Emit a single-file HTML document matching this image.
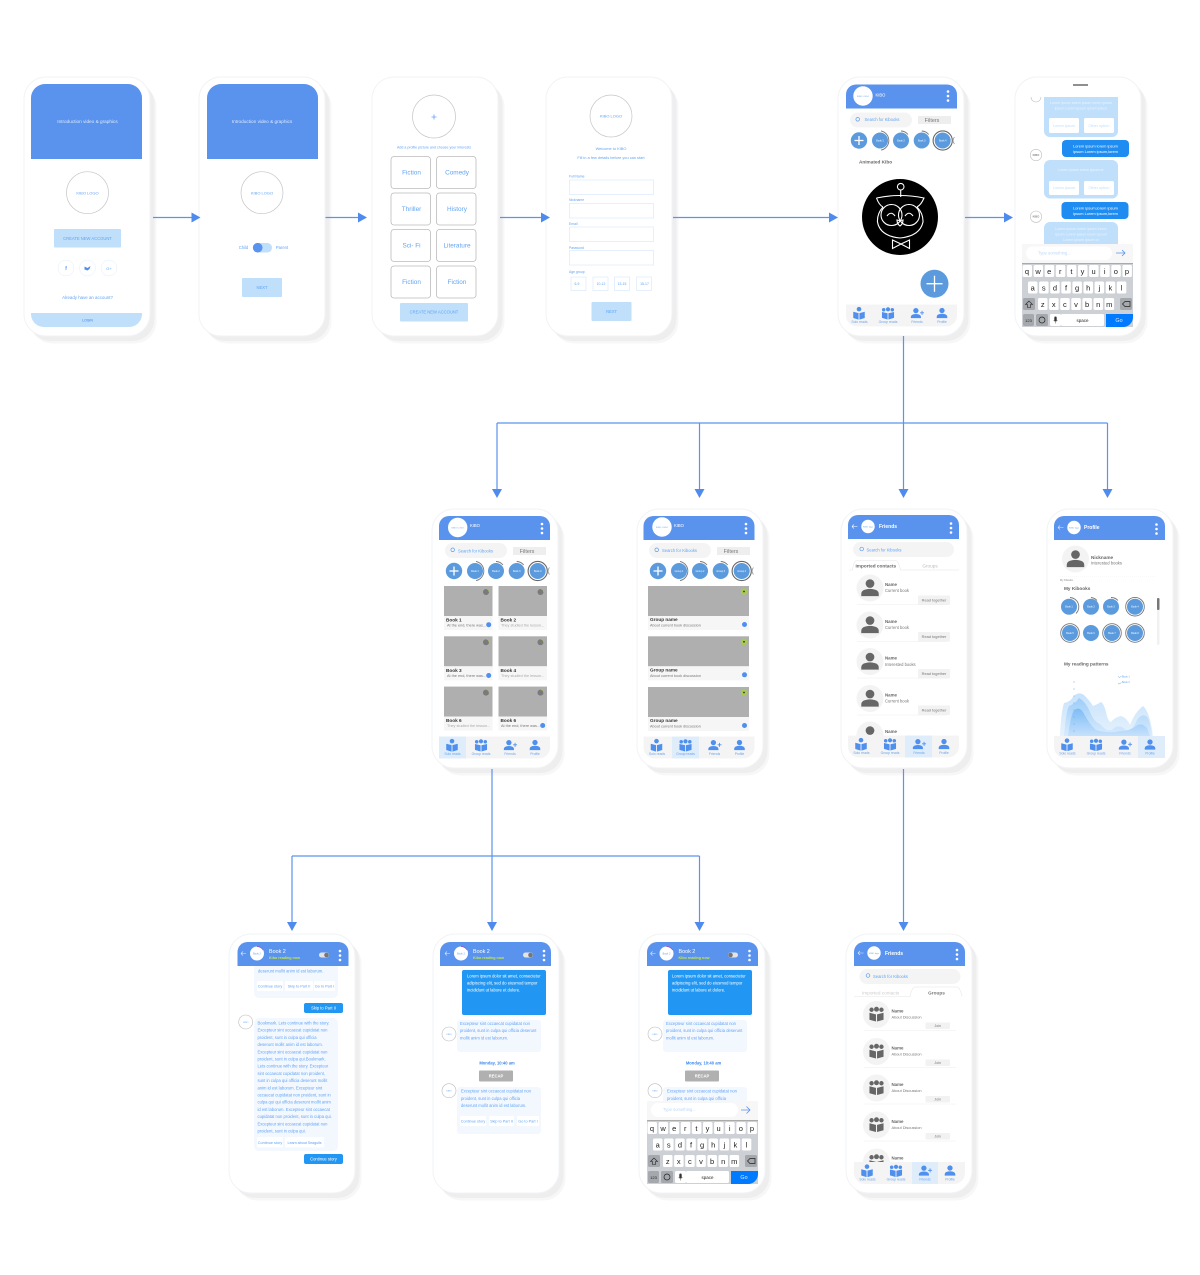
<!DOCTYPE html>
<html><head><meta charset="utf-8"><title>Kibo flow</title>
<style>
html,body{margin:0;padding:0;background:#fff}
svg{display:block;filter:blur(.35px)}
text{font-family:"Liberation Sans",sans-serif}
.b{fill:#62a4f4}.w{fill:#fff}.g{fill:#777}.d{fill:#333}
.bo{font-weight:700}
.m{text-anchor:middle}
.t3{font-size:3.8px}.t35{font-size:4.15px}.t4{font-size:4.7px}.t45{font-size:5px}.t5{font-size:5.4px}.t6{font-size:6.4px}
.k{font-size:7.5px;fill:#222;text-anchor:middle}
.line{stroke:#5b93ee;stroke-width:1.2;fill:none}
.ah{fill:#4f8bee}
</style></head><body>
<svg width="1200" height="1275" viewBox="0 0 1200 1275" xmlns="http://www.w3.org/2000/svg">
<defs>
<linearGradient id="c1" x1="0" y1="0" x2="0" y2="1"><stop offset="0" stop-color="#c7e2fb"/><stop offset="1" stop-color="#e6f2fd"/></linearGradient>
<linearGradient id="c2" x1="0" y1="0" x2="0" y2="1"><stop offset="0" stop-color="#9ccdf9"/><stop offset="1" stop-color="#d9ebfc"/></linearGradient>
<linearGradient id="c3" x1="0" y1="0" x2="0" y2="1"><stop offset="0" stop-color="#7dbcf7"/><stop offset="1" stop-color="#c6e1fb"/></linearGradient>
<g id="phone"><rect x="6.500" y="7.500" width="126" height="259" rx="22" fill="#f7f7f7"/><rect x="4.500" y="5" width="126" height="259" rx="22" fill="#eeeeee"/><rect x="0" y="0" width="126" height="259" rx="22" fill="#fff" stroke="#f1f3f6" stroke-width="1"/></g>
<path id="hdr" d="M0 24V10a10 10 0 0 1 10-10h91a10 10 0 0 1 10 10v14z" fill="#5a93ee"/>
<g id="dots" fill="#fff"><circle cx="0" cy="-4.500" r="1.300"/><circle cx="0" cy="0" r="1.300"/><circle cx="0" cy="4.500" r="1.300"/></g>
<g id="person"><circle cx="0" cy="-2.600" r="2.300"/><path d="M-4.600 4v-1.200q0-2.400 4.600-2.600q4.600.2 4.600 2.600v1.200z"/></g>
<g id="solo" fill="#4f8fee"><circle cx="0" cy="-3.800" r="2"/><path d="M-5-1.500l4.600 1.200v5.600l-4.600-1.400zM5-1.500l-4.600 1.200v5.600l4.600-1.400z"/></g>
<g id="group" fill="#4f8fee"><circle cx="0" cy="-3.800" r="1.900"/><circle cx="-3.900" cy="-3.400" r="1.600"/><circle cx="3.900" cy="-3.400" r="1.600"/><path d="M-5.500-1.400l5.100 1.200v5.600l-5.100-1.400zM5.500-1.400l-5.100 1.200v5.600l5.100-1.400z"/></g>
<g id="friend" fill="#4f8fee"><circle cx="-1" cy="-2.600" r="2.400"/><path d="M-5.600 4.200v-1.200q0-2.400 4.600-2.600q4.600.2 4.600 2.600v1.200z"/><path d="M2.800-.6h3.600M4.600-2.400v3.600" stroke="#4f8fee" stroke-width=".8"/></g>
<g id="navbg"><path d="M0 0h111v11a11 11 0 0 1-11 11H11A11 11 0 0 1 0 11z" fill="#f4f4f4"/></g>
<g id="navic">
<use href="#solo" transform="translate(13 9) scale(1.15)"/><use href="#group" transform="translate(42 9) scale(1.1)"/><use href="#friend" transform="translate(71 9) scale(1.1)"/><use href="#person" transform="translate(96 9) scale(1.15)" fill="#4f8fee"/>
<g style="font-size:3.4px" class="m" fill="#6aa3ee"><text x="13.500" y="18.500">Solo reads</text><text x="42" y="18.500">Group reads</text><text x="71" y="18.500">Friends</text><text x="96" y="18.500">Profile</text></g>
</g>
<g id="arcr"><path d="M1 -9.600A9.800 9.800 0 0 1 1 9.600" fill="none" stroke="#777" stroke-width=".9"/></g>
<g id="strip">
<circle r="8.200" fill="#5b9bdd"/><path d="M-4.500 0h9M0-4.500v9" stroke="#fff" stroke-width="1.300"/>
<circle cx="21" r="8" fill="#5b9bdd"/><use href="#arcr" x="21"/>
<circle cx="42" r="8" fill="#5b9bdd"/><path d="M42 -9.500A9.500 9.500 0 0 1 49 -6" fill="none" stroke="#777" stroke-width=".9"/>
<circle cx="62.700" r="8" fill="#5b9bdd"/><path d="M62.700 -9.500A9.500 9.500 0 0 1 69.700 -6" fill="none" stroke="#777" stroke-width=".9"/>
<circle cx="83.700" r="8" fill="#5b9bdd"/><circle cx="83.700" r="9.600" fill="none" stroke="#666" stroke-width="1.100"/>
<path d="M95.500 -3.500A5 5 0 0 0 95.500 3.500" fill="none" stroke="#999" stroke-width=".8"/>
</g>
<g id="srch"><rect width="62" height="15" rx="7.500" fill="#f4f4f4"/><circle cx="7.700" cy="6.800" r="1.800" fill="none" stroke="#5a9af0" stroke-width=".7"/></g>
<g id="filt"><rect width="33" height="8" fill="#eee"/><text x="14" y="5.800" class="t5 m g">Filters</text></g>
<g id="bcard"><rect width="48.500" height="30" fill="#afafaf"/><rect y="30" width="48.500" height="14" fill="#f6f6f6"/><circle cx="42" cy="6" r="3" fill="#7a7a7a"/><path d="M42.500 3A3 3 0 0 1 45 6" fill="none" stroke="#a8cc50" stroke-width=".6"/></g>
<g id="gcard"><rect width="101" height="30" fill="#afafaf"/><rect y="30" width="101" height="14" fill="#f6f6f6"/><circle cx="96" cy="5.500" r="3.200" fill="#a8cc50"/><circle cx="96" cy="5.500" r=".9" fill="#333"/><circle cx="96.500" cy="38.500" r="2.500" fill="#4f8fee"/></g>
<g id="bigp"><circle r="13.500" fill="#f3f3f3"/><use href="#person" transform="translate(0 .5) scale(1.9)" fill="#666"/></g>
<g id="groupg" fill="#666"><circle cx="0" cy="-6" r="2.800"/><circle cx="-5.600" cy="-5.400" r="2.500"/><circle cx="5.600" cy="-5.400" r="2.500"/><path d="M-8-2l7.400 1.800v8.200l-7.400-2zM8-2l-7.400 1.800v8.200l7.400-2z"/></g>
<g id="bigg"><circle r="13.500" fill="#f3f3f3"/><use href="#groupg" transform="scale(.88)"/></g>
<g id="av"><circle r="7" fill="#fff" stroke="#bbb" stroke-width=".6"/><text y="1" class="m b" style="font-size:2.200px">KIBO</text></g>
<g id="chc">
<path d="M4.500 0h5M4.500 0l2-2M4.500 0l2 2" stroke="#dfe9fb" stroke-width=".6" fill="none" transform="translate(-.5 0)"/>
<circle cx="20" r="7" fill="#fff"/><path d="M20 -7A7 7 0 0 1 26 -3.500" stroke="#b03fc0" stroke-width=".7" fill="none"/>
<text x="20" y="1" class="m b" style="font-size:2.500px">Book 2</text>
<text x="32" y="-.5" class="t5 w">Book 2</text>
<text x="32" y="5.500" class="bo" style="font-size:3.700px" fill="#c8e830">Kibo reading now</text>
<use href="#dots" x="103" y="2"/>
</g>
<g id="tog"><rect x="-5" y="-2.500" width="10" height="5" rx="2.500" fill="#e4e4e4"/><circle cx="2.500" r="2.300" fill="#777"/></g>
<g id="kb">
<rect width="111" height="64" fill="#cdd1d6"/><rect width="111" height="1" fill="#aaa"/>
<g fill="#fff">
<rect x=".5" y="2" width="9.500" height="12" rx="1.500"/><rect x="11.600" y="2" width="9.500" height="12" rx="1.500"/><rect x="22.700" y="2" width="9.500" height="12" rx="1.500"/><rect x="33.800" y="2" width="9.500" height="12" rx="1.500"/><rect x="44.900" y="2" width="9.500" height="12" rx="1.500"/><rect x="56" y="2" width="9.500" height="12" rx="1.500"/><rect x="67.100" y="2" width="9.500" height="12" rx="1.500"/><rect x="78.200" y="2" width="9.500" height="12" rx="1.500"/><rect x="89.300" y="2" width="9.500" height="12" rx="1.500"/><rect x="100.400" y="2" width="9.500" height="12" rx="1.500"/>
<rect x="6" y="18.500" width="9.500" height="12" rx="1.500"/><rect x="17.100" y="18.500" width="9.500" height="12" rx="1.500"/><rect x="28.200" y="18.500" width="9.500" height="12" rx="1.500"/><rect x="39.300" y="18.500" width="9.500" height="12" rx="1.500"/><rect x="50.400" y="18.500" width="9.500" height="12" rx="1.500"/><rect x="61.500" y="18.500" width="9.500" height="12" rx="1.500"/><rect x="72.600" y="18.500" width="9.500" height="12" rx="1.500"/><rect x="83.700" y="18.500" width="9.500" height="12" rx="1.500"/><rect x="94.800" y="18.500" width="9.500" height="12" rx="1.500"/>
<rect x="16" y="35" width="9.500" height="12" rx="1.500"/><rect x="27.100" y="35" width="9.500" height="12" rx="1.500"/><rect x="38.200" y="35" width="9.500" height="12" rx="1.500"/><rect x="49.300" y="35" width="9.500" height="12" rx="1.500"/><rect x="60.400" y="35" width="9.500" height="12" rx="1.500"/><rect x="71.500" y="35" width="9.500" height="12" rx="1.500"/><rect x="82.600" y="35" width="9.500" height="12" rx="1.500"/>
<rect x="28" y="51" width="11" height="12" rx="1.500"/><rect x="39" y="51" width="43" height="12" rx="1.500"/>
</g>
<rect x="1" y="35" width="12" height="12" rx="1.500" fill="#a5a8ad"/><rect x="98" y="35" width="12" height="12" rx="1.500" fill="#a5a8ad"/>
<rect x="1" y="51" width="11" height="12" rx="1.500" fill="#a5a8ad"/><rect x="14" y="51" width="12" height="12" rx="1.500" fill="#a5a8ad"/>
<path d="M84 51h27v3a10 10 0 0 1-10 10H84z" fill="#007aff"/>
<text x="5" y="11" class="k">q</text><text x="16.100" y="11" class="k">w</text><text x="27.200" y="11" class="k">e</text><text x="38.300" y="11" class="k">r</text><text x="49.400" y="11" class="k">t</text><text x="60.500" y="11" class="k">y</text><text x="71.600" y="11" class="k">u</text><text x="82.700" y="11" class="k">i</text><text x="93.800" y="11" class="k">o</text><text x="104.900" y="11" class="k">p</text>
<text x="10.700" y="27.500" class="k">a</text><text x="21.800" y="27.500" class="k">s</text><text x="32.900" y="27.500" class="k">d</text><text x="44" y="27.500" class="k">f</text><text x="55.100" y="27.500" class="k">g</text><text x="66.200" y="27.500" class="k">h</text><text x="77.300" y="27.500" class="k">j</text><text x="88.400" y="27.500" class="k">k</text><text x="99.500" y="27.500" class="k">l</text>
<text x="20.700" y="44" class="k">z</text><text x="31.800" y="44" class="k">x</text><text x="42.900" y="44" class="k">c</text><text x="54" y="44" class="k">v</text><text x="65.100" y="44" class="k">b</text><text x="76.200" y="44" class="k">n</text><text x="87.300" y="44" class="k">m</text>
<path d="M7 38l-3.500 3.500h2v3h3v-3h2z" fill="none" stroke="#222" stroke-width=".6"/>
<path d="M100.500 41l2.500-2.500h5v5h-5z" fill="none" stroke="#222" stroke-width=".7"/>
<text x="6.500" y="59" class="m" style="font-size:4px" fill="#222">123</text>
<circle cx="20" cy="57" r="3" fill="none" stroke="#222" stroke-width=".7"/>
<rect x="32.300" y="53.500" width="2.400" height="5" rx="1.200" fill="#333"/><path d="M31.500 57q2 3 4 0M33.500 59v1.500" fill="none" stroke="#333" stroke-width=".4"/>
<text x="60.500" y="59" class="m" style="font-size:4.500px" fill="#222">space</text>
<text x="97" y="59" class="t5 m" fill="#dde9ff">Go</text>
</g>
</defs>

<!-- phones -->
<use href="#phone" x="24" y="77"/><use href="#phone" x="199" y="77"/><use href="#phone" x="372" y="77"/><use href="#phone" x="546" y="77"/><use href="#phone" x="838" y="77"/><use href="#phone" x="1015" y="77"/>
<use href="#phone" x="432" y="509"/><use href="#phone" x="637" y="509"/><use href="#phone" x="841" y="509"/><use href="#phone" x="1047" y="509"/>
<use href="#phone" x="229" y="934"/><use href="#phone" x="433" y="934"/><use href="#phone" x="639" y="934"/><use href="#phone" x="846" y="934"/>

<!-- connectors -->
<g class="line">
<path d="M153 217.500H192"/><path d="M325.500 217.500H359"/><path d="M500 217.500H542"/><path d="M673 217.500H830"/><path d="M965 217.500H1005"/>
<path d="M903.500 336V490"/><path d="M497 423H1107.500"/><path d="M497 423V490"/><path d="M699.500 423V490"/><path d="M1107.500 423V490"/>
<path d="M492 769V923"/><path d="M292 856H699.500"/><path d="M292 856V923"/><path d="M699.500 856V923"/><path d="M903.500 769V923"/>
</g>
<g class="ah">
<path d="M191.500 212.500l9 5-9 5z"/><path d="M358 212.500l9 5-9 5z"/><path d="M541 212.500l9 5-9 5z"/><path d="M829 212.500l9 5-9 5z"/><path d="M1004 212.500l9 5-9 5z"/>
<path d="M492 489h10l-5 9z"/><path d="M694.500 489h10l-5 9z"/><path d="M898.500 489h10l-5 9z"/><path d="M1102.500 489h10l-5 9z"/>
<path d="M287 922h10l-5 9z"/><path d="M487 922h10l-5 9z"/><path d="M694.500 922h10l-5 9z"/><path d="M898.500 922h10l-5 9z"/>
</g>

<!-- P1 -->
<path d="M31 159V98a14 14 0 0 1 14-14h83a14 14 0 0 1 14 14v61z" fill="#5a93ee"/>
<text x="87.500" y="123" class="t4 m" fill="#dfe9fb">Introduction video &amp; graphics</text>
<circle cx="87.500" cy="192.700" r="21" fill="#fff" stroke="#c4c4c4" stroke-width=".7"/>
<text x="87.500" y="194.500" class="m b" style="font-size:4px">KIBO LOGO</text>
<rect x="54" y="229" width="67" height="18.500" rx="1" fill="#bfdffb"/>
<text x="87.500" y="240" class="t35 m b">CREATE NEW ACCOUNT</text>
<g fill="#fff" stroke="#e2eefc" stroke-width=".5"><circle cx="66" cy="268" r="8"/><circle cx="87.500" cy="268" r="8"/><circle cx="109" cy="268" r="8"/></g>
<text x="66" y="270" class="t5 m bo b">f</text><path d="M84.500 266.500l3 1.500 3-2-1 3-2 1.500-3-1z" fill="#4f8fee"/><text x="109" y="270" class="m b" style="font-size:4px">G+</text>
<text x="87.500" y="299" class="m b" style="font-size:4.400px">Already have an account?</text>
<path d="M31 313h111v1a13 13 0 0 1-13 13H44a13 13 0 0 1-13-13z" fill="#bfdffb"/>
<text x="87.500" y="321.300" class="m" style="font-size:3.400px" fill="#3c7fe0">LOGIN</text>

<!-- P2 -->
<path d="M207 159V98a14 14 0 0 1 14-14h83a14 14 0 0 1 14 14v61z" fill="#5a93ee"/>
<text x="262" y="123" class="t4 m" fill="#dfe9fb">Introduction video &amp; graphics</text>
<circle cx="262" cy="192.700" r="21" fill="#fff" stroke="#c4c4c4" stroke-width=".7"/>
<text x="262" y="194.500" class="m b" style="font-size:4px">KIBO LOGO</text>
<text x="243.500" y="249" class="t35 m b">Child</text>
<rect x="253" y="243" width="19" height="9.500" rx="4.700" fill="#bfdffb"/><circle cx="257.700" cy="247.700" r="4.800" fill="#5a93ee"/>
<text x="282" y="249" class="t35 m b">Parent</text>
<rect x="242" y="278" width="40" height="19" rx="1" fill="#bfdffb"/>
<text x="262" y="289" class="t35 m b">NEXT</text>

<!-- P3 -->
<circle cx="434" cy="116.500" r="21.500" fill="#fff" stroke="#c4c4c4" stroke-width=".7"/>
<path d="M431.500 117h5M434 114.500v5" stroke="#62a4f4" stroke-width=".8"/>
<text x="434" y="148.500" class="m b" style="font-size:3.600px">Add a profile picture and choose your interests</text>
<g fill="#fff" stroke="#bbb" stroke-width=".8">
<rect x="391" y="156.500" width="39.500" height="32" rx="3"/><rect x="436.500" y="156.500" width="39.500" height="32" rx="3"/>
<rect x="391" y="193" width="39.500" height="32" rx="3"/><rect x="436.500" y="193" width="39.500" height="32" rx="3"/>
<rect x="391" y="229.500" width="39.500" height="32" rx="3"/><rect x="436.500" y="229.500" width="39.500" height="32" rx="3"/>
<rect x="391" y="266" width="39.500" height="32" rx="3"/><rect x="436.500" y="266" width="39.500" height="32" rx="3"/>
</g>
<g class="t6 b" text-anchor="middle">
<text x="411.500" y="174.500">Fiction</text><text x="457" y="174.500">Comedy</text>
<text x="411.500" y="211">Thriller</text><text x="457" y="211">History</text>
<text x="411.500" y="247.500">Sci- Fi</text><text x="457" y="247.500">Literature</text>
<text x="411.500" y="284">Fiction</text><text x="457" y="284">Fiction</text>
</g>
<rect x="400" y="303" width="68" height="18.500" rx="1" fill="#bfdffb"/>
<text x="434" y="313.500" class="t35 m b">CREATE NEW ACCOUNT</text>

<!-- P4 -->
<circle cx="611" cy="116" r="21" fill="#fff" stroke="#c4c4c4" stroke-width=".7"/>
<text x="611" y="117.500" class="m b" style="font-size:4px">KIBO LOGO</text>
<text x="611" y="150" class="m b" style="font-size:3.900px">Welcome to KIBO</text>
<text x="611" y="159" class="m b" style="font-size:3.900px">Fill in a few details before you can start</text>
<g class="b" style="font-size:3.400px"><text x="569" y="177.500">Full Name</text><text x="569" y="201">Nickname</text><text x="569" y="225">Email</text><text x="569" y="249">Password</text><text x="569" y="273">Age group</text></g>
<g fill="#fff" stroke="#d5e7fb" stroke-width=".6">
<rect x="569.500" y="180" width="84" height="14.500"/><rect x="569.500" y="203.500" width="84" height="14.500"/><rect x="569.500" y="227" width="84" height="14.500"/><rect x="569.500" y="250.500" width="84" height="14.500"/>
<rect x="571" y="277" width="15" height="13.500"/><rect x="593" y="277" width="15" height="13.500"/><rect x="614.500" y="277" width="15" height="13.500"/><rect x="636.500" y="277" width="15" height="13.500"/>
</g>
<g class="m b" style="font-size:3.400px"><text x="577" y="285">6-9</text><text x="601" y="285">10-12</text><text x="622" y="285">13-15</text><text x="644.500" y="285">15-17</text></g>
<rect x="591.500" y="302" width="40" height="19" rx="1" fill="#bfdffb"/>
<text x="611.500" y="313" class="t35 m b">NEXT</text>

<!-- P5 -->
<use href="#hdr" x="846" y="84.500"/><circle cx="863" cy="96" r="9.700" fill="#fff"/>
<text x="863" y="97" class="m b" style="font-size:2.200px">KIBO LOGO</text><text x="875.500" y="96.500" class="t35 w">KIBO</text>
<use href="#dots" x="948" y="96"/>
<use href="#srch" x="850" y="112.500"/><text x="882" y="121" class="t35 m b">Search for Kibooks</text>
<use href="#filt" x="918" y="116"/>
<use href="#strip" x="859" y="140.500"/>
<g class="m w" style="font-size:2.400px"><text x="880" y="141.500">Book 1</text><text x="901" y="141.500">Book 2</text><text x="921.700" y="141.500">Book 3</text><text x="942.700" y="141.500">Book 4</text></g>
<text x="859" y="163.500" class="t4 bo" fill="#666">Animated Kibo</text>
<circle cx="900" cy="217" r="38" fill="#000"/>
<g fill="none" stroke="#fff" stroke-width="1.100">
<circle cx="900.700" cy="186.700" r="3.300"/><path d="M900.700 190V197"/>
<path d="M876.500 198Q900 193 924 198Q921 205 917 207"/><path d="M876.500 198Q879 205 883 207"/>
<path d="M883 207A25 22 0 0 0 877.500 222Q880 236 900 238Q920 236 923 222A25 22 0 0 0 917 207"/>
<circle cx="891.500" cy="215" r="10.500"/><circle cx="909" cy="215" r="10.500"/>
<path d="M887 216q4-5.500 8 0M905 216q4-5.500 8 0"/>
<path d="M897 220q3 1 6 0q0 4-3 6q-3-2-3-6z"/>
<path d="M901 244l-8.500-4v8.500zM901 244l8.500-4v8.500z"/>
</g>
<circle cx="934.500" cy="283.700" r="14" fill="#5b9bdd"/><path d="M926.500 283.700h16M934.500 275.700v16" stroke="#fff" stroke-width="1.300"/>
<use href="#navbg" x="846" y="304.500"/><use href="#navic" x="846" y="304.500"/>

<!-- P6 -->
<path d="M1073 85h15" stroke="#444" stroke-width="1.200"/>
<g fill="#bfdffb"><path d="M1044 97h74v34a6 6 0 0 1-6 6h-62a6 6 0 0 1-6-6z"/><rect x="1044" y="160" width="74" height="38.500" rx="6"/><path d="M1044 228a6 6 0 0 1 6-6h62a6 6 0 0 1 6 6v16h-74z"/></g>
<g class="m" fill="#eaf4ff" style="font-size:3.600px"><text x="1081" y="104">Lorem ipsum lorem ipsum lorem ipsum</text><text x="1081" y="109.500">ipsum Lorem ipsum ipsum ipsum</text><text x="1081" y="171">Lorem ipsum lorem ipsum or</text><text x="1081" y="230">Lorem ipsum lorem ipsum lorem</text><text x="1081" y="235.500">ipsum Lorem ipsum lorem ipsum</text><text x="1081" y="241">Lorem ipsum ipsum or</text></g>
<g fill="#fff"><rect x="1049" y="118" width="30" height="15" rx="1.500"/><rect x="1084" y="118" width="30" height="15" rx="1.500"/><rect x="1049" y="181" width="30" height="14" rx="1.500"/><rect x="1084" y="181" width="30" height="14" rx="1.500"/></g>
<g class="m" fill="#bfdffb" style="font-size:3.800px"><text x="1064" y="127">Lorem ipsum</text><text x="1099" y="127">Other option</text><text x="1064" y="189">Lorem ipsum</text><text x="1099" y="189">Other option</text></g>
<rect x="1062" y="140" width="67" height="17" rx="4" fill="#1f8cf2"/><rect x="1061.500" y="202" width="67" height="17" rx="4" fill="#1f8cf2"/>
<g class="m w" style="font-size:3.900px"><text x="1095.500" y="147.500">Lorem ipsum lorem ipsum</text><text x="1095.500" y="153">ipsum Lorem ipsum,lorem</text><text x="1095.500" y="209.500">Lorem ipsum,lorem ipsum</text><text x="1095.500" y="215">ipsum Lorem ipsum,lorem</text></g>
<circle cx="1036" cy="155" r="5.700" fill="#fff" stroke="#bbb" stroke-width=".6"/><circle cx="1036" cy="216.700" r="5.700" fill="#fff" stroke="#bbb" stroke-width=".6"/><path d="M1031 97a5 5 0 0 0 10 0" fill="none" stroke="#bbb" stroke-width=".6"/>
<text x="1036" y="156" class="m" style="font-size:2.800px" fill="#555">KIBO</text><text x="1036" y="217.700" class="m" style="font-size:2.800px" fill="#555">KIBO</text>
<rect x="1022" y="244" width="111" height="19" fill="#f7f7f7"/><rect x="1026" y="246.500" width="86" height="13.500" rx="6.700" fill="#fff"/>
<text x="1038" y="254.500" class="t35" fill="#bcd9f7">Type something...</text>
<path d="M1116 253h9M1122 250l3 3-3 3" fill="none" stroke="#5a93ee" stroke-width=".8"/>
<use href="#kb" x="1022" y="263"/>

<!-- P7 -->
<use href="#hdr" x="439" y="516"/><circle cx="457.700" cy="527.500" r="9.700" fill="#fff"/>
<text x="457.700" y="528.500" class="m b" style="font-size:2.200px">KIBO LOGO</text><text x="470" y="527" class="t35 w">KIBO</text>
<use href="#dots" x="542" y="528.500"/>
<use href="#srch" x="445" y="543"/><text x="458" y="552.500" class="t35 b">Search for Kibooks</text>
<use href="#filt" x="513" y="547"/>
<use href="#strip" x="454" y="571"/>
<g class="m w" style="font-size:2.400px"><text x="475" y="572">Book 1</text><text x="496" y="572">Book 2</text><text x="516.700" y="572">Book 3</text><text x="537.700" y="572">Book 4</text></g>
<use href="#bcard" x="444" y="586"/><use href="#bcard" x="498.500" y="586"/><use href="#bcard" x="444" y="636.300"/><use href="#bcard" x="498.500" y="636.300"/><use href="#bcard" x="444" y="686.600"/><use href="#bcard" x="498.500" y="686.600"/>
<g class="t4 bo d"><text x="446" y="621.500">Book 1</text><text x="500.500" y="621.500">Book 2</text><text x="446" y="671.800">Book 3</text><text x="500.500" y="671.800">Book 4</text><text x="446" y="722">Book 6</text><text x="500.500" y="722">Book 6</text></g>
<g class="t3 g"><text x="447" y="626.500">At the end, there was...</text><text x="501" y="626.500" fill="#aaa">They studied the lesson...</text><text x="447" y="677">At the end, there was...</text><text x="501" y="677" fill="#aaa">They studied the lesson...</text><text x="447" y="727" fill="#aaa">They studied the lesson...</text><text x="501" y="727">At the end, there was...</text></g>
<g fill="#4f8fee"><circle cx="488.700" cy="624.700" r="2.500"/><circle cx="488.700" cy="675.500" r="2.500"/><circle cx="542.700" cy="725.500" r="2.500"/></g>
<use href="#navbg" x="439" y="736.500"/><rect x="439" y="736.500" width="27" height="22" fill="#dfedfb"/><use href="#navic" x="439" y="736.500"/>

<!-- P8 -->
<use href="#hdr" x="643.500" y="516"/><circle cx="662" cy="527" r="9.700" fill="#fff"/>
<text x="662" y="528" class="m b" style="font-size:2.200px">KIBO LOGO</text><text x="674" y="527" class="t35 w">KIBO</text>
<use href="#dots" x="746" y="528.500"/>
<use href="#srch" x="649" y="543"/><text x="662" y="552" class="t35 b">Search for Kibooks</text>
<use href="#filt" x="717" y="547"/>
<use href="#strip" x="658" y="571"/>
<g class="m w" style="font-size:2.400px"><text x="679" y="572">Group 1</text><text x="700" y="572">Group 2</text><text x="720.700" y="572">Group 3</text><text x="741.700" y="572">Group 4</text></g>
<use href="#gcard" x="648" y="586"/><use href="#gcard" x="648" y="636.300"/><use href="#gcard" x="648" y="687"/>
<g class="t4 bo d"><text x="650" y="621">Group name</text><text x="650" y="671.500">Group name</text><text x="650" y="722">Group name</text></g>
<g class="t3 g"><text x="650" y="626.500">About current book discussion</text><text x="650" y="677">About current book discussion</text><text x="650" y="727.500">About current book discussion</text></g>
<use href="#navbg" x="643.500" y="736.500"/><rect x="672" y="736.500" width="27" height="22" fill="#dfedfb"/><use href="#navic" x="643.500" y="736.500"/>

<!-- P9 -->
<use href="#hdr" x="848" y="515"/><path d="M852 526.500h5.500M852 526.500l2-2M852 526.500l2 2" stroke="#fff" stroke-width=".6" fill="none"/>
<circle cx="868" cy="526.500" r="6.700" fill="#fff"/><text x="868" y="527.500" class="m b" style="font-size:2.200px">KIBO logo</text>
<text x="879" y="528" class="t45 bo w">Friends</text><use href="#dots" x="951" y="528"/>
<rect x="853" y="542" width="101" height="15" rx="7.500" fill="#f4f4f4"/><circle cx="861.700" cy="549" r="1.800" fill="none" stroke="#5a9af0" stroke-width=".7"/>
<text x="866.500" y="551.500" class="t35 b">Search for Kibooks</text>
<text x="855.500" y="567.500" class="t4 bo" fill="#666">Imported contacts</text><text x="930" y="567.500" class="t4 m" fill="#bbb">Groups</text>
<path d="M849 570h3.500q1-9 5-9.500h38q3 .5 5 9.500h58.500" fill="none" stroke="#e6e6e6" stroke-width=".6"/>
<use href="#bigp" x="870" y="588"/><use href="#bigp" x="870" y="625"/><use href="#bigp" x="870" y="661.500"/><use href="#bigp" x="870" y="698.500"/><use href="#bigp" x="870" y="735"/>
<g class="bo" style="font-size:4.400px" fill="#666"><text x="885" y="586">Name</text><text x="885" y="623">Name</text><text x="885" y="659.500">Name</text><text x="885" y="696.500">Name</text><text x="885" y="733">Name</text></g>
<g class="t35 g"><text x="885" y="592">Current book</text><text x="885" y="629">Current book</text><text x="885" y="666">Interested books</text><text x="885" y="702.500">Current book</text></g>
<g fill="#f2f2f2"><rect x="918" y="595.500" width="32" height="9.500" rx="1"/><rect x="918" y="632" width="32" height="9.500" rx="1"/><rect x="918" y="669" width="32" height="9.500" rx="1"/><rect x="918" y="705.500" width="32" height="9.500" rx="1"/></g>
<g class="m g" style="font-size:3.900px"><text x="934" y="601.500">Read together</text><text x="934" y="638.200">Read together</text><text x="934" y="675.200">Read together</text><text x="934" y="711.700">Read together</text></g>
<path d="M857 604.500h90M857 641.500h90M857 678h90M857 715h90" stroke="#eee" stroke-width=".5"/>
<use href="#navbg" x="848" y="735.500"/><rect x="905" y="735.500" width="27" height="22" fill="#dfedfb"/><use href="#navic" x="848" y="735.500"/>

<!-- P10 -->
<use href="#hdr" x="1054" y="516"/><path d="M1058 527.500h5.500M1058 527.500l2-2M1058 527.500l2 2" stroke="#dfe9fb" stroke-width=".6" fill="none"/>
<circle cx="1074" cy="527.500" r="6.700" fill="#fff"/><text x="1074" y="528.500" class="m b" style="font-size:2.200px">KIBO logo</text>
<text x="1084" y="529" class="t45 bo w">Profile</text><use href="#dots" x="1156.500" y="529"/>
<use href="#bigp" x="1075.500" y="559"/>
<text x="1091" y="559" class="t4 bo" fill="#666">Nickname</text><text x="1091" y="564.500" style="font-size:4.200px" class="g">Interested books</text>
<path d="M1060 576.500h95" stroke="#eee" stroke-width=".4" stroke-dasharray="1 1"/>
<text x="1060" y="581" style="font-size:2.500px" fill="#888">My Kibooks</text>
<text x="1064" y="590" class="t4 bo" fill="#666">My Kibooks</text>
<g fill="#5b9bdd"><circle cx="1069" cy="606.700" r="8"/><circle cx="1091" cy="606.700" r="8"/><circle cx="1111" cy="606.700" r="8"/><circle cx="1135" cy="606.700" r="8"/><circle cx="1070" cy="633" r="8"/><circle cx="1091" cy="633" r="8"/><circle cx="1112" cy="633" r="8"/><circle cx="1135" cy="633" r="8"/></g>
<g fill="none" stroke="#777" stroke-width=".9"><circle cx="1135" cy="606.700" r="9.300"/><circle cx="1070" cy="633" r="9.300"/><circle cx="1112" cy="633" r="9.300"/><circle cx="1135" cy="633" r="9.300"/><path d="M1070 597.500a9.300 9.300 0 0 1 6 16"/><path d="M1091 597.500a9.300 9.300 0 0 1 6 3"/><path d="M1111 597.500a9.300 9.300 0 0 1 7 3"/></g>
<g class="m w" style="font-size:2.400px"><text x="1069" y="607.700">Book 1</text><text x="1091" y="607.700">Book 2</text><text x="1111" y="607.700">Book 3</text><text x="1135" y="607.700">Book 4</text><text x="1070" y="634">Book 5</text><text x="1091" y="634">Book 6</text><text x="1112" y="634">Book 7</text><text x="1135" y="634">Book 8</text></g>
<rect x="1157" y="598" width="2.500" height="47" rx="1.200" fill="#f1f1f1"/><rect x="1157" y="598" width="2.500" height="12" rx="1" fill="#777"/>
<text x="1064" y="665.500" class="t4 bo" fill="#666">My reading patterns</text>
<g fill="#62a4f4" style="font-size:2.500px"><text x="1122" y="677.500">Book 1</text><text x="1122" y="683">Book 2</text></g>
<path d="M1118 676.500l1.500 1 2-1.500M1118 683l1.500 1 2-1.500" stroke="#62a4f4" stroke-width=".5" fill="none"/>
<path d="M1060 736Q1061 712 1064 703Q1070 702 1073 697Q1078 691 1084 695Q1090 701 1093 706Q1098 704 1101 702Q1104 704 1106 712Q1108 722 1111 722Q1115 717 1121 716Q1127 718 1130 725Q1135 712 1143 706Q1150 712 1153 736Z" fill="url(#c1)"/>
<path d="M1064 736Q1066 712 1069 706Q1075 704 1079 698Q1086 702 1090 712Q1094 722 1100 724Q1108 734 1114 728Q1120 724 1126 730Q1132 732 1137 720Q1143 712 1148 718Q1151 726 1152 736Z" fill="url(#c2)"/>
<path d="M1068 736Q1070 720 1073 712Q1078 705 1083 712Q1090 725 1096 730Q1110 734 1120 731Q1130 731 1136 726Q1142 722 1147 728L1150 736Z" fill="url(#c3)"/>
<path d="M1073 682h2M1073 689h2M1073 696h2M1073 703h2M1073 710h2M1073 717h2M1073 724h2M1073 731h2" stroke="#7faae8" stroke-width=".5"/>
<use href="#navbg" x="1054" y="736"/><rect x="1138" y="736" width="27" height="22" fill="#dfedfb"/><use href="#navic" x="1054" y="736"/>

<!-- P11 -->
<rect x="254" y="960" width="84" height="38" rx="5" fill="#f3f8ff"/>
<use href="#hdr" x="237.500" y="942"/><use href="#chc" x="237" y="953.500"/><use href="#tog" x="324" y="955"/>
<text x="258" y="972.500" class="t35 b">deserunt mollit anim id est laborum.</text>
<g fill="#fff"><rect x="257" y="981" width="26" height="10" rx="1"/><rect x="285" y="981" width="28" height="10" rx="1"/><rect x="314" y="981" width="21" height="10" rx="1"/></g>
<g class="t3 m b"><text x="270" y="987.300">Continue story</text><text x="299" y="987.300">Skip to Part II</text><text x="324.500" y="987.300">Go to Part I</text></g>
<rect x="304" y="1003" width="39" height="10" rx="2" fill="#2196f3"/><text x="323.500" y="1009.500" class="t35 m w">Skip to Part II</text>
<use href="#av" x="245.700" y="1022"/>
<rect x="254" y="1018" width="84" height="133" rx="5" fill="#f3f8ff"/>
<g class="t35 b"><text x="257.500" y="1024.500">Bookmark. Lets continue with the story.</text><text x="257.500" y="1031.700">Excepteur sint occaecat cupidatat non</text><text x="257.500" y="1038.900">proident, sunt in culpa qui officia</text><text x="257.500" y="1046.100">deserunt mollit anim id est laborum.</text><text x="257.500" y="1053.300">Excepteur sint occaecat cupidatat non</text><text x="257.500" y="1060.500">proident, sunt in culpa qui.Bookmark.</text><text x="257.500" y="1067.700">Lets continue with the story. Excepteur</text><text x="257.500" y="1074.900">sint occaecat cupidatat non proident,</text><text x="257.500" y="1082.100">sunt in culpa qui officia deserunt mollit</text><text x="257.500" y="1089.300">anim id est laborum. Excepteur sint</text><text x="257.500" y="1096.500">occaecat cupidatat non proident, sunt in</text><text x="257.500" y="1103.700">culpa qui qui officia deserunt mollit anim</text><text x="257.500" y="1110.900">id est laborum. Excepteur sint occaecat</text><text x="257.500" y="1118.100">cupidatat non proident, sunt in culpa qui.</text><text x="257.500" y="1125.300">Excepteur sint occaecat cupidatat non</text><text x="257.500" y="1132.500">proident, sunt in culpa qui.</text></g>
<g fill="#fff"><rect x="257" y="1137" width="26" height="10.500" rx="1"/><rect x="285" y="1137" width="39" height="10.500" rx="1"/></g>
<text x="270" y="1143.800" class="t3 m b">Continue story</text><text x="304.500" y="1143.800" class="t3 m b" textLength="34">Learn about Seagulls</text>
<rect x="304" y="1154" width="39" height="10" rx="2" fill="#2196f3"/><text x="323.500" y="1160.500" class="t35 m w">Continue story</text>

<!-- P12 -->
<use href="#hdr" x="440" y="942"/><use href="#chc" x="441" y="953.500"/><use href="#tog" x="528" y="955"/>
<rect x="462" y="970" width="84" height="45" rx="2" fill="#2196f3"/>
<g class="t35 w"><text x="467" y="977.500">Lorem ipsum dolor sit amet, consectetur</text><text x="467" y="984.500">adipiscing elit, sed do eiusmod tempor</text><text x="467" y="991.500">incididunt ut labore et dolore.</text></g>
<rect x="457" y="1020" width="84" height="32" rx="3" fill="#f3f8ff"/>
<g class="t35 b"><text x="460" y="1025">Excepteur sint occaecat cupidatat non</text><text x="460" y="1032">proident, sunt in culpa qui officia deserunt</text><text x="460" y="1039.500">mollit anim id est laborum.</text></g>
<use href="#av" x="449" y="1034"/>
<text x="497" y="1064.500" class="t35 m bo" fill="#3a86ef">Monday, 10:40 am</text>
<rect x="479" y="1070.500" width="34" height="11" rx="1" fill="#b0b0b0"/><text x="496" y="1077.500" class="t35 m bo w">RECAP</text>
<use href="#av" x="449" y="1090.700"/>
<rect x="457" y="1087" width="84" height="47" rx="3" fill="#f3f8ff"/>
<g class="t35 b"><text x="461" y="1092.500">Excepteur sint occaecat cupidatat non</text><text x="461" y="1100">proident, sunt in culpa qui officia</text><text x="461" y="1107">deserunt mollit anim id est laborum.</text></g>
<g fill="#fff"><rect x="460" y="1116" width="26" height="10" rx="1"/><rect x="489" y="1116" width="25" height="10" rx="1"/><rect x="517" y="1116" width="22" height="10" rx="1"/></g>
<g class="t3 m b"><text x="473" y="1122.300">Continue story</text><text x="501.500" y="1122.300">Skip to Part II</text><text x="528" y="1122.300">Go to Part I</text></g>

<!-- P13 -->
<use href="#hdr" x="647" y="942"/><use href="#chc" x="646.500" y="953.500"/><g transform="translate(733 955) scale(-1 1)"><use href="#tog"/></g>
<rect x="668" y="970" width="84" height="45" rx="2" fill="#2196f3"/>
<g class="t35 w"><text x="672" y="977.500">Lorem ipsum dolor sit amet, consectetur</text><text x="672" y="984.500">adipiscing elit, sed do eiusmod tempor</text><text x="672" y="991.500">incididunt ut labore et dolore.</text></g>
<rect x="663" y="1020" width="84" height="32" rx="3" fill="#f3f8ff"/>
<g class="t35 b"><text x="666" y="1025">Excepteur sint occaecat cupidatat non</text><text x="666" y="1032">proident, sunt in culpa qui officia deserunt</text><text x="666" y="1039.500">mollit anim id est laborum.</text></g>
<use href="#av" x="655" y="1034"/>
<text x="703.500" y="1064.500" class="t35 m bo" fill="#3a86ef">Monday, 10:40 am</text>
<rect x="685" y="1070.500" width="34" height="11" rx="1" fill="#b0b0b0"/><text x="702" y="1077.500" class="t35 m bo w">RECAP</text>
<use href="#av" x="655" y="1090.700"/>
<rect x="663" y="1087" width="84" height="16" rx="3" fill="#f3f8ff"/>
<g class="t35 b"><text x="667" y="1092.500">Excepteur sint occaecat cupidatat non</text><text x="667" y="1100">proident, sunt in culpa qui officia</text></g>
<rect x="647" y="1101" width="111" height="19" fill="#f7f7f7"/><rect x="651" y="1103" width="87" height="14" rx="7" fill="#fff"/>
<text x="663" y="1111" class="t35" fill="#bcd9f7">Type something...</text>
<path d="M741 1110h9M746.500 1106.500l3.500 3.500-3.500 3.500" fill="none" stroke="#5a93ee" stroke-width=".8"/>
<use href="#kb" x="647" y="1120"/>

<!-- P14 -->
<use href="#hdr" x="854" y="942"/><path d="M858 953h5.500M858 953l2-2M858 953l2 2" stroke="#dfe9fb" stroke-width=".6" fill="none"/>
<circle cx="874" cy="953" r="6.700" fill="#fff"/><text x="874" y="954" class="m b" style="font-size:2.200px">KIBO logo</text>
<text x="885" y="955" class="t45 bo w">Friends</text><use href="#dots" x="957" y="954.500"/>
<rect x="859.500" y="969" width="101" height="15" rx="7.500" fill="#f4f4f4"/><circle cx="868" cy="975.500" r="1.800" fill="none" stroke="#5a9af0" stroke-width=".7"/>
<text x="873" y="978" class="t35 b">Search for Kibooks</text>
<text x="862" y="994.500" class="t4" fill="#ccc">Imported contacts</text><text x="936.500" y="994.500" class="t4 m bo" fill="#777">Groups</text>
<path d="M854 996.500h56q2-9 5-9.500h42q3 .5 5 9.500" fill="none" stroke="#e6e6e6" stroke-width=".6"/>
<use href="#bigg" x="876.500" y="1014.500"/><use href="#bigg" x="876.500" y="1051.500"/><use href="#bigg" x="876.500" y="1088"/><use href="#bigg" x="876.500" y="1125"/><use href="#bigg" x="876.500" y="1162"/>
<g class="bo" style="font-size:4.400px" fill="#666"><text x="891.500" y="1012.500">Name</text><text x="891.500" y="1049.500">Name</text><text x="891.500" y="1086">Name</text><text x="891.500" y="1123">Name</text><text x="891.500" y="1159.500">Name</text></g>
<g class="g" style="font-size:3.900px"><text x="891.500" y="1018.500">About Discussion</text><text x="891.500" y="1055.500">About Discussion</text><text x="891.500" y="1092">About Discussion</text><text x="891.500" y="1129">About Discussion</text></g>
<g fill="#f2f2f2"><rect x="925.500" y="1022.500" width="24.500" height="6.500" rx="1"/><rect x="925.500" y="1059.500" width="24.500" height="6.500" rx="1"/><rect x="925.500" y="1096" width="24.500" height="6.500" rx="1"/><rect x="925.500" y="1133" width="24.500" height="6.500" rx="1"/></g>
<g class="m g" style="font-size:3.600px"><text x="937.700" y="1027">Join</text><text x="937.700" y="1064">Join</text><text x="937.700" y="1100.500">Join</text><text x="937.700" y="1137.500">Join</text></g>
<path d="M864 1030.500h92M864 1067.500h92M864 1104h92M864 1141h92" stroke="#eee" stroke-width=".5"/>
<use href="#navbg" x="854" y="1162"/><rect x="912" y="1162" width="26" height="22" fill="#dfedfb"/><use href="#navic" x="854" y="1162"/>
</svg>
</body></html>
